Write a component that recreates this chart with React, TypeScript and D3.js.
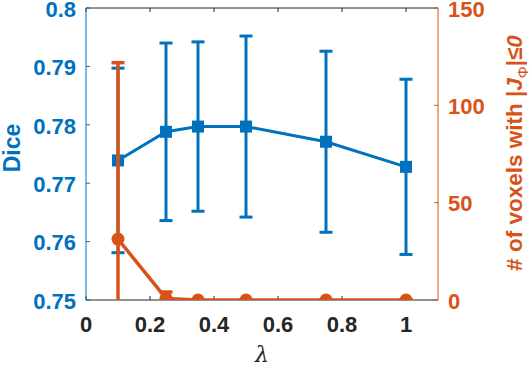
import React, { useEffect, useRef } from 'react';
import * as d3 from 'd3';

// lambda values on the x axis
const lambdas = [0.1, 0.25, 0.35, 0.5, 0.75, 1];
// Dice (left axis), mean and error
const diceMean = [0.7739, 0.7788, 0.7797, 0.7797, 0.7771, 0.7728];
const diceErr = [0.0158, 0.0152, 0.0145, 0.0155, 0.0155, 0.015];
// # of voxels with |J|<=0 (right axis), mean and error
const voxMean = [31.3, 0.8, 0, 0, 0, 0];
const voxErr = [90.6, 3.3, 0, 0, 0, 0];

const xTicks = [0, 0.2, 0.4, 0.6, 0.8, 1];
const leftTicks = [0.75, 0.76, 0.77, 0.78, 0.79, 0.8];
const rightTicks = [0, 50, 100, 150];

const BLUE = '#0072BD';
const ORANGE = '#D95319';
const DARK = '#262626';

export default function App() {
  const ref = useRef<SVGSVGElement>(null);

  useEffect(() => {
    const W = 532, H = 366;
    const margin = { top: 8, right: 94, bottom: 66, left: 86 };
    const width = W - margin.left - margin.right;
    const height = H - margin.top - margin.bottom;

    const svg = d3.select(ref.current);
    svg.selectAll('*').remove();
    const g = svg.append('g').attr('transform', `translate(${margin.left},${margin.top})`);

    const x = d3.scaleLinear().domain([0, 1.1]).range([0, width]);
    const yL = d3.scaleLinear().domain([0.75, 0.8]).range([height, 0]);
    const yR = d3.scaleLinear().domain([0, 150]).range([height, 0]);

    const font = '"Liberation Sans", Arial, Helvetica, sans-serif';
    const tickSize = 22;

    svg.append('defs').append('clipPath').attr('id', 'plotclip')
      .append('rect').attr('x', 0).attr('y', 0).attr('width', width).attr('height', height);

    // bottom + top box lines
    g.append('line').attr('x1', 0).attr('x2', width).attr('y1', height).attr('y2', height)
      .attr('stroke', DARK).attr('stroke-width', 1);
    g.append('line').attr('x1', 0).attr('x2', width).attr('y1', 0).attr('y2', 0)
      .attr('stroke', DARK).attr('stroke-width', 1);

    // x ticks (inward, top and bottom)
    xTicks.forEach(t => {
      g.append('line').attr('x1', x(t)).attr('x2', x(t)).attr('y1', height).attr('y2', height - 4)
        .attr('stroke', DARK);
      g.append('line').attr('x1', x(t)).attr('x2', x(t)).attr('y1', 0).attr('y2', 4)
        .attr('stroke', DARK);
      g.append('text').attr('x', x(t)).attr('y', height + 32)
        .attr('text-anchor', 'middle').attr('font-family', font).attr('font-weight', 'bold')
        .attr('font-size', tickSize).attr('fill', DARK).text(d3.format('~g')(t));
    });

    // left axis
    g.append('line').attr('x1', 0).attr('x2', 0).attr('y1', 0).attr('y2', height)
      .attr('stroke', BLUE);
    leftTicks.forEach(t => {
      g.append('line').attr('x1', 0).attr('x2', 4).attr('y1', yL(t)).attr('y2', yL(t))
        .attr('stroke', BLUE);
      g.append('text').attr('x', -10).attr('y', yL(t)).attr('dy', '0.4em')
        .attr('text-anchor', 'end').attr('font-family', font).attr('font-weight', 'bold')
        .attr('font-size', tickSize).attr('fill', BLUE).text(d3.format('~g')(t));
    });

    // right axis
    g.append('line').attr('x1', width).attr('x2', width).attr('y1', 0).attr('y2', height)
      .attr('stroke', ORANGE);
    rightTicks.forEach(t => {
      g.append('line').attr('x1', width).attr('x2', width - 4).attr('y1', yR(t)).attr('y2', yR(t))
        .attr('stroke', ORANGE);
      g.append('text').attr('x', width + 10).attr('y', yR(t)).attr('dy', '0.4em')
        .attr('text-anchor', 'start').attr('font-family', font).attr('font-weight', 'bold')
        .attr('font-size', tickSize).attr('fill', ORANGE).text(t);
    });

    const plot = g.append('g').attr('clip-path', 'url(#plotclip)');

    // errorbar series helper
    function series(mean: number[], err: number[], y: d3.ScaleLinear<number, number>, col: string, lw: number, marker: string) {
      const s = plot.append('g');
      lambdas.forEach((l, i) => {
        const lo = y(mean[i] - err[i]), hi = y(mean[i] + err[i]);
        s.append('line').attr('x1', x(l)).attr('x2', x(l)).attr('y1', lo).attr('y2', hi)
          .attr('stroke', col).attr('stroke-width', lw);
        [lo, hi].forEach(c => {
          s.append('line').attr('x1', x(l) - 6.5).attr('x2', x(l) + 6.5).attr('y1', c).attr('y2', c)
            .attr('stroke', col).attr('stroke-width', lw);
        });
      });
      const line = d3.line<number>().x((d, i) => x(lambdas[i])).y(d => y(d));
      s.append('path').attr('d', line(mean)).attr('fill', 'none')
        .attr('stroke', col).attr('stroke-width', lw);
      lambdas.forEach((l, i) => {
        if (marker === 'square') {
          s.append('rect').attr('x', x(l) - 6).attr('y', y(mean[i]) - 6)
            .attr('width', 12).attr('height', 12).attr('fill', col);
        } else {
          s.append('circle').attr('cx', x(l)).attr('cy', y(mean[i])).attr('r', 6.5).attr('fill', col);
        }
      });
    }

    series(diceMean, diceErr, yL, BLUE, 3, 'square');
    series(voxMean, voxErr, yR, ORANGE, 3.5, 'circle');

    // axis labels
    svg.append('text').attr('x', margin.left + width / 2).attr('y', 362)
      .attr('text-anchor', 'middle').attr('font-family', '"DejaVu Serif", serif')
      .attr('font-style', 'italic').attr('font-size', 22).attr('fill', DARK).text('λ');

    svg.append('text').attr('transform', 'translate(20,148) rotate(-90)')
      .attr('text-anchor', 'middle').attr('font-family', font).attr('font-weight', 'bold')
      .attr('font-size', 23).attr('fill', BLUE).text('Dice');

    const rl = svg.append('text').attr('transform', 'translate(522,153) rotate(-90)')
      .attr('text-anchor', 'middle').attr('font-family', font).attr('font-weight', 'bold')
      .attr('font-size', 22.5).attr('fill', ORANGE);
    rl.append('tspan').text('# of voxels with |');
    rl.append('tspan').attr('font-style', 'italic').text('J');
    rl.append('tspan').attr('font-size', 15).attr('font-weight', 'normal').attr('dy', 6).text('Φ');
    rl.append('tspan').attr('dy', -6).text('|≤');
    rl.append('tspan').attr('font-style', 'italic').text('0');
  }, []);

  return (
    <div style={{ position: 'absolute', left: 0, top: 0 }}>
      <svg ref={ref} width={532} height={366} style={{ display: 'block', background: '#fff' }} />
    </div>
  );
}
